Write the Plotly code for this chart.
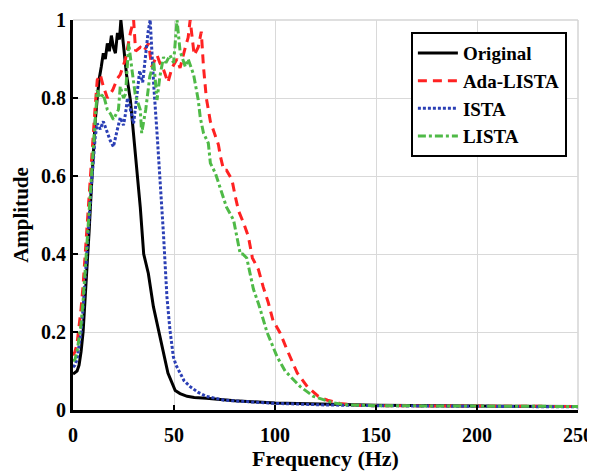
import plotly.graph_objects as go

# ---------------- data ----------------
orig_x = [0, 1, 2, 3, 4, 5, 6, 7, 8, 9, 10, 11, 12, 13, 14, 15, 16, 17, 18, 19, 20, 21, 22, 23, 23.7,
          24.5, 25.4, 26.5, 28.4, 30.8, 33.3, 35, 37.3, 39.8, 42.3, 44.7, 47, 50.6, 53, 56.5, 60, 66,
          80, 100, 125, 150, 200, 250]
orig_y = [0.092, 0.095, 0.10, 0.115, 0.15, 0.20, 0.28, 0.36, 0.46, 0.56, 0.66, 0.74, 0.80, 0.85, 0.88,
          0.915, 0.90, 0.94, 0.92, 0.96, 0.93, 0.915, 0.967, 0.95, 1.0,
          0.96, 0.92, 0.86, 0.795, 0.667, 0.52, 0.40, 0.35, 0.265, 0.205, 0.146, 0.095, 0.05, 0.042, 0.035, 0.032, 0.03,
          0.024, 0.018, 0.015, 0.012, 0.010, 0.009]

ada_x = [0, 1, 2, 3, 4, 5, 6, 7, 8, 9, 10, 11, 12, 13.5, 15, 17, 19.6, 22, 23.4, 26, 28.4, 30, 31, 33.3,
         35, 37.4, 39, 41.6, 43, 45, 47, 49, 51.5, 53, 55.6, 57, 58, 60, 62, 63.5, 64.6, 66, 68, 70.5, 72,
         73, 74.6, 76, 78.7, 80.4, 82, 84.4, 86.8, 88.8, 91.8, 94.2, 96.7, 99, 102.6, 106, 111, 116, 121.5,
         126, 132, 140, 150, 200, 250]
ada_y = [0.14, 0.15, 0.17, 0.21, 0.26, 0.32, 0.40, 0.48, 0.56, 0.64, 0.72, 0.78, 0.846, 0.86, 0.83, 0.80, 0.82,
         0.85, 0.86, 0.90, 0.967, 1.0, 0.92, 0.93,
         0.92, 0.94, 0.88, 0.91, 0.89, 0.87, 0.84, 0.877, 0.90, 0.877, 0.93, 0.955, 1.0, 0.91, 0.93, 0.97, 0.88,
         0.80, 0.74, 0.70, 0.68,
         0.65, 0.615, 0.615, 0.59, 0.546, 0.51, 0.48, 0.445, 0.39, 0.36, 0.315, 0.275, 0.23, 0.197, 0.154, 0.095,
         0.06, 0.035, 0.025, 0.017, 0.012, 0.011, 0.010, 0.009]

ista_x = [0, 1, 2, 3, 4, 5, 6, 7, 8, 9, 10, 11, 12, 13.5, 15, 17, 18.5, 20, 21, 22, 23.4, 25, 26, 27, 28,
          29, 30, 31.5, 33, 34.5, 36, 37.2, 38.2, 39, 40, 41.6, 43.3, 44.8, 45.6, 46.5, 48, 49.7, 51, 53,
          55, 58, 62, 66, 75, 100, 125, 150, 200, 250]
ista_y = [0.11, 0.115, 0.13, 0.16, 0.20, 0.26, 0.33, 0.41, 0.49, 0.57, 0.64, 0.70, 0.735, 0.72, 0.74, 0.71,
          0.69, 0.675, 0.70, 0.72, 0.75, 0.73, 0.76, 0.80, 0.78,
          0.76, 0.735, 0.80, 0.87, 0.84, 0.92, 0.97, 1.0, 0.92, 0.83, 0.71, 0.58, 0.45, 0.375, 0.29, 0.205,
          0.136, 0.115, 0.095, 0.075, 0.06, 0.045, 0.035, 0.025, 0.017, 0.013, 0.011, 0.009, 0.008]

lista_x = [0, 1, 2, 3, 4, 5, 6, 7, 8, 9, 10, 11, 12, 13.5, 15, 17, 18.5, 20, 22.5, 23.4, 25, 26, 27.6, 29,
           30.8, 32, 33.3, 34, 36, 38, 40, 41.6, 43, 44.8, 46, 48, 49.8, 51.5, 53, 55.6, 57, 59.7, 62, 63,
           64.6, 67, 68, 70.5, 73, 76, 79.5, 81, 82.8, 84, 86, 89.3, 92, 96, 101, 105, 112.5, 119, 129, 136,
           150, 200, 250]
lista_y = [0.125, 0.13, 0.15, 0.18, 0.22, 0.28, 0.35, 0.43, 0.51, 0.59, 0.66, 0.73, 0.82, 0.80, 0.81, 0.77,
           0.76, 0.745, 0.77, 0.83, 0.80, 0.81, 0.94, 0.88,
           0.81, 0.79, 0.77, 0.71, 0.77, 0.855, 0.89, 0.795, 0.855, 0.905, 0.89, 0.91, 0.89, 1.0, 0.92, 0.88,
           0.90, 0.86, 0.795, 0.75,
           0.71, 0.684, 0.633, 0.607, 0.57, 0.52, 0.487, 0.45, 0.40, 0.40, 0.39, 0.31, 0.27, 0.20, 0.137, 0.10,
           0.06, 0.035, 0.018, 0.013,
           0.011, 0.010, 0.009]

x_ticks = [0, 50, 100, 150, 200, 250]
y_ticks = [0, 0.2, 0.4, 0.6, 0.8, 1]
y_tick_labels = ["0", "0.2", "0.4", "0.6", "0.8", "1"]

FONT = "Liberation Serif"

fig = go.Figure()
fig.add_trace(go.Scatter(x=orig_x, y=orig_y, mode="lines", name="Original",
                         line=dict(color="#000000", width=3)))
fig.add_trace(go.Scatter(x=ada_x, y=ada_y, mode="lines", name="Ada-LISTA",
                         line=dict(color="#ff2222", width=3, dash="9px,6px")))
fig.add_trace(go.Scatter(x=ista_x, y=ista_y, mode="lines", name="ISTA",
                         line=dict(color="#2b3fb5", width=3, dash="3px,2px")))
fig.add_trace(go.Scatter(x=lista_x, y=lista_y, mode="lines", name="LISTA",
                         line=dict(color="#4fba47", width=3, dash="8px,3px,3px,3px")))

# light top/right frame
fig.add_shape(type="line", xref="paper", yref="paper", x0=0, x1=1, y0=1, y1=1,
              line=dict(color="#d4d4d4", width=1.5), layer="below")
fig.add_shape(type="line", xref="paper", yref="paper", x0=1, x1=1, y0=0, y1=1,
              line=dict(color="#d4d4d4", width=1.5), layer="below")

# the page body adds an 8px offset, so the figure is 8px smaller and margins shifted
fig.update_layout(
    width=587, height=463,
    margin=dict(l=65, r=17, t=12, b=61, autoexpand=False),
    paper_bgcolor="white", plot_bgcolor="white",
    font=dict(family=FONT, size=20, color="black", weight="bold"),
    showlegend=True,
    legend=dict(x=0.978, y=0.969, xanchor="right", yanchor="top",
                bgcolor="white", bordercolor="black", borderwidth=2,
                font=dict(family=FONT, size=19, color="black", weight="bold"),
                tracegroupgap=0, itemwidth=40),
)
fig.update_xaxes(range=[0, 250], tickvals=x_ticks, ticks="inside", ticklen=5, tickwidth=2,
                 tickcolor="black", showline=True, linecolor="black", linewidth=3,
                 showgrid=True, gridcolor="#d9d9d9", gridwidth=1.2, zeroline=False,
                 automargin=False, ticklabelstandoff=5, ticklabeloverflow="allow",
                 tickfont=dict(family=FONT, size=20, color="black", weight="bold"),
                 title=dict(text="Frequency (Hz)", standoff=6,
                            font=dict(family=FONT, size=22, color="black", weight="bold")))
fig.update_yaxes(range=[0, 1], tickvals=y_ticks, ticktext=y_tick_labels, ticks="inside", ticklen=5,
                 tickwidth=2, tickcolor="black", showline=True, linecolor="black", linewidth=3,
                 showgrid=True, gridcolor="#d9d9d9", gridwidth=1.2, zeroline=False,
                 automargin=False,
                 tickfont=dict(family=FONT, size=20, color="black", weight="bold"),
                 title=dict(text="Amplitude", standoff=7,
                            font=dict(family=FONT, size=21, color="black", weight="bold")))

fig.write_html("out.html")
